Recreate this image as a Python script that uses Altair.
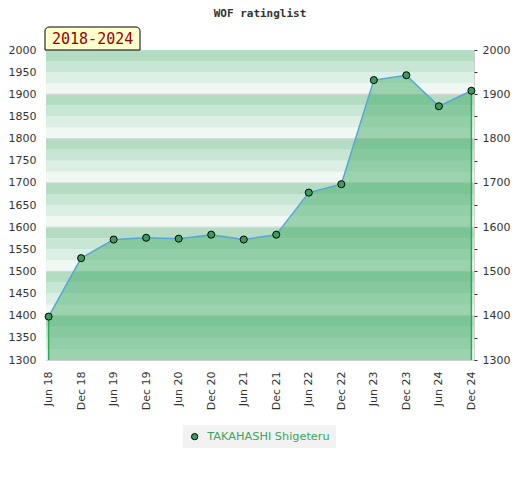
import altair as alt
import pandas as pd

periods = ["Jun 18", "Dec 18", "Jun 19", "Dec 19", "Jun 20", "Dec 20", "Jun 21",
           "Dec 21", "Jun 22", "Dec 22", "Jun 23", "Dec 23", "Jun 24", "Dec 24"]
ratings = [1398, 1530, 1572, 1576, 1574, 1583, 1572,
           1583, 1678, 1697, 1932, 1943, 1873, 1908]
player = "TAKAHASHI Shigeteru"
badge_text = "2018-2024"
chart_title = "WOF ratinglist"
y_min, y_max = 1300, 2000

df = pd.DataFrame({"period": periods, "rating": ratings, "player": player})
df["base"] = y_min
edges = df.iloc[[0, -1]]

band_colors = ["#b3dcc3", "#c8e6d4", "#dcefe4", "#eff8f2"]
bands = []
for lo in range(y_min, y_max, 25):
    top = lo + 25
    idx = ((100 - top % 100) % 100) // 25
    bands.append({"lo": lo, "hi": top, "c": band_colors[idx]})
bands = pd.DataFrame(bands)
grid = pd.DataFrame({"v": list(range(y_min + 100, y_max, 100))})

W, H = 428, 310
ysc = alt.Scale(domain=[y_min, y_max], nice=False, zero=False)
xenc = alt.X("period:O", sort=periods, scale=alt.Scale(type="point", padding=0.08),
             title=None,
             axis=alt.Axis(labelAngle=-90, ticks=False, domain=False, labelPadding=11,
                           labelFont="DejaVu Sans", labelFontSize=11, labelColor="#333"))

band_layer = alt.Chart(bands).mark_rect().encode(
    y=alt.Y("lo:Q", scale=ysc, title=None,
            axis=alt.Axis(orient="left", values=list(range(y_min, y_max + 1, 50)),
                          format="d", ticks=False, domain=False, grid=False, labelPadding=10,
                          labelFont="DejaVu Sans", labelFontSize=11, labelColor="#333")),
    y2="hi:Q",
    fill=alt.Fill("c:N", scale=None),
)

grid_layer = alt.Chart(grid).mark_rule(color="#d6d6d6", strokeWidth=1).encode(
    y=alt.Y("v:Q", scale=ysc, axis=None),
)

area_layer = alt.Chart(df).mark_area(color="#37a75d", opacity=0.45).encode(
    x=xenc,
    y=alt.Y("rating:Q", scale=ysc, title=None,
            axis=alt.Axis(orient="right", values=list(range(y_min, y_max + 1, 50)),
                          format="d",
                          labelExpr="datum.value % 100 == 0 ? datum.label : ''",
                          ticks=True, tickSize=3, tickColor="#333", domain=False, grid=False,
                          labelPadding=5, labelFont="DejaVu Sans", labelFontSize=11,
                          labelColor="#333")),
    y2="base:Q",
)

edge_layer = alt.Chart(edges).mark_rule(color="#2eaa50", strokeWidth=1.5).encode(
    x=alt.X("period:O", sort=periods),
    y=alt.Y("rating:Q", scale=ysc, axis=None),
    y2="base:Q",
)

line_layer = alt.Chart(df).mark_line(color="#5aa5d8", strokeWidth=1.5).encode(
    x=alt.X("period:O", sort=periods),
    y=alt.Y("rating:Q", scale=ysc, axis=None),
)

point_layer = alt.Chart(df).mark_point(filled=True, size=50, stroke="black",
                                       strokeWidth=1, opacity=1).encode(
    x=alt.X("period:O", sort=periods),
    y=alt.Y("rating:Q", scale=ysc, axis=None),
    color=alt.Color("player:N", scale=alt.Scale(range=["#3a9d5d"]),
                    legend=alt.Legend(title=None, orient="none", legendX=137, legendY=375,
                                      fillColor="#f2f2f2", padding=6,
                                      symbolType="circle", symbolSize=40,
                                      symbolStrokeColor="black", symbolStrokeWidth=1,
                                      labelOffset=7,
                                      labelColor="#3aa65a", labelFont="DejaVu Sans",
                                      labelFontSize=11.3)),
)

label_df = pd.DataFrame({"t": [badge_text], "title": [chart_title]})
badge_rect = alt.Chart(label_df).mark_rect(fill="#ffffcc", stroke="black", strokeWidth=1,
                                           cornerRadiusTopLeft=4, cornerRadiusTopRight=4).encode(
    x=alt.value(-1), x2=alt.value(94), y=alt.value(-23), y2=alt.value(0),
)
badge_txt = alt.Chart(label_df).mark_text(font="DejaVu Sans Mono", fontSize=15,
                                          color="#990000", align="left",
                                          baseline="middle").encode(
    x=alt.value(6), y=alt.value(-11), text="t:N",
)
title_txt = alt.Chart(label_df).mark_text(font="DejaVu Sans Mono", fontSize=11,
                                          fontWeight="bold", color="#333",
                                          align="center", baseline="middle").encode(
    x=alt.value(W / 2), y=alt.value(-36), text="title:N",
)

chart = alt.layer(
    band_layer, grid_layer, area_layer, edge_layer, line_layer, point_layer,
    badge_rect, badge_txt, title_txt
).resolve_scale(y="independent").properties(
    width=W, height=H,
    autosize=alt.AutoSizeParams(type="none"),
    padding={"left": 38, "top": 42, "right": 38, "bottom": 110},
).configure_view(stroke="#d0d0d0")

chart.save("out.html", embed_options={"renderer": "svg", "actions": False})
